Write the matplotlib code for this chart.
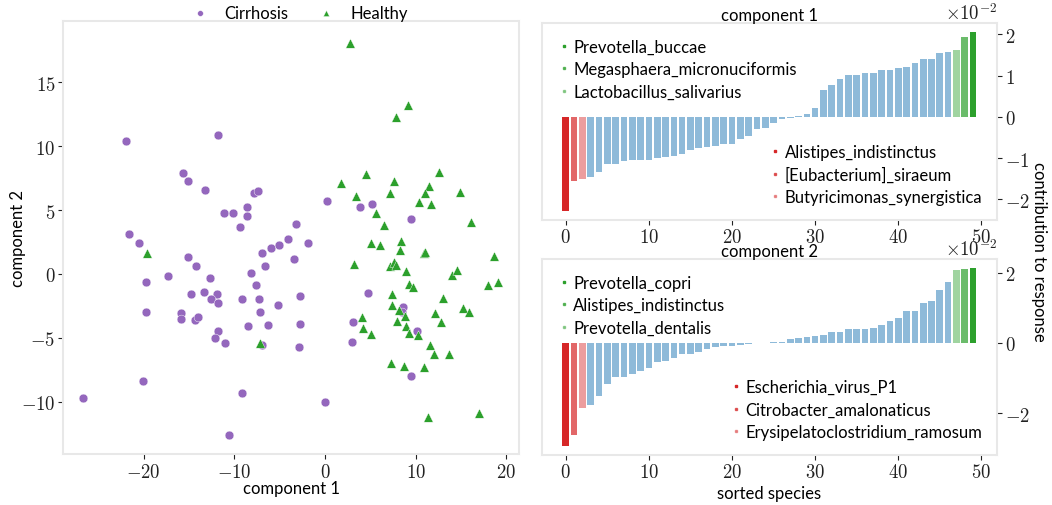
import matplotlib
matplotlib.use("Agg")
import matplotlib.pyplot as plt
from matplotlib.lines import Line2D
from matplotlib.ticker import FuncFormatter
import numpy as np

plt.rcParams['font.family'] = ['Lato', 'DejaVu Sans']
plt.rcParams['mathtext.fontset'] = 'cm'

# ---------------- data ----------------
cirrhosis_x = [-26.7, -21.9, -21.6, -20.5, -19.7, -19.7, -20.1, -17.3, -15.1, -14.2,
               -12.7, -13.3, -14.8, -11.9, -12.6, -11.8, -15.9, -15.9, -14.3, -14.0,
               -11.8, -12.1, -11.0, -9.4, -9.2, -8.2, -7.6, -7.3, -7.2, -8.5,
               -6.3, -7.0, -6.0, -5.1, -4.1, -6.6, -5.2, -3.4, -2.8, -2.8,
               -2.9, -9.2, -10.6, -7.0, -11.8, -15.7, -15.1, -13.2, -7.8, -7.4,
               -8.6, -11.1, -10.1, -8.6, -3.2, 0.2, 3.9, 5.2, 9.5, -1.9,
               0.0, 4.7, 3.1, 3.0, 8.6, 8.5, 10.1, 9.5]
cirrhosis_y = [-9.7, 10.4, 3.1, 2.4, -0.6, -3.0, -8.4, -0.2, 1.3, 0.6,
               -0.3, -1.4, -1.6, -1.6, -2.0, -2.3, -3.1, -3.5, -3.6, -3.4,
               -4.5, -5.0, -5.4, 3.7, -2.0, 0.1, -0.9, -2.0, -3.0, -4.1,
               -4.0, 1.6, 2.0, 2.3, 2.7, 0.6, -2.4, 1.2, -1.7, -3.9,
               -5.7, -9.3, -12.6, -5.6, 10.9, 7.9, 7.3, 6.6, 6.3, 6.5,
               5.2, 4.8, 4.8, 4.5, 3.9, 5.7, 5.2, 5.5, 4.3, 2.4,
               -10.0, -1.5, -3.8, -5.3, -2.6, -3.0, -4.5, -8.0]

healthy_x = [2.8, 9.2, 7.8, 4.5, 1.8, 12.6, 7.6, 3.4, 7.2, 11.5,
             11.0, 10.4, 11.7, 14.9, 5.6, 6.5, 16.1, 5.1, 6.1, 8.4,
             8.3, 3.2, 7.2, 7.6, 7.8, 10.9, 11.0, 8.9, 9.3, 9.7,
             14.0, 14.6, 18.6, 18.0, 19.1, 7.4, 7.4, 8.2, 8.8, 13.0,
             12.1, 12.8, 15.2, 15.9, 7.9, 8.9, 9.3, 10.3, 4.1, 4.2,
             5.1, 11.6, 12.0, 13.7, 7.3, 8.7, 10.9, 11.4, 17.0, -7.2,
             -19.6]
healthy_y = [18.1, 13.2, 12.3, 7.8, 7.1, 8.0, 7.3, 6.1, 6.3, 6.9,
             6.3, 5.6, 5.5, 6.4, 4.8, 3.8, 4.1, 2.4, 2.3, 2.6,
             1.9, 0.8, 0.6, 0.9, 0.7, 1.6, 1.7, 0.2, -0.8, -1.0,
             -0.1, 0.3, 1.4, -0.9, -0.6, -1.6, -2.4, -2.8, -3.3, -1.9,
             -3.1, -3.8, -2.7, -3.0, -3.7, -4.1, -4.6, -4.8, -3.4, -4.2,
             -4.7, -5.6, -6.3, -6.3, -7.0, -7.2, -7.3, -11.2, -10.9, -5.4,
             1.6]

# contributions in units of 1e-2
comp1_contrib = [-2.28, -1.55, -1.50, -1.45, -1.33, -1.15, -1.15, -1.08, -1.06, -1.05,
                 -1.04, -1.00, -0.98, -0.95, -0.91, -0.80, -0.76, -0.73, -0.70, -0.65,
                 -0.65, -0.54, -0.47, -0.30, -0.27, -0.15, -0.06, -0.02, 0.01, 0.08,
                 0.22, 0.65, 0.77, 0.91, 1.01, 1.01, 1.07, 1.07, 1.13, 1.13,
                 1.18, 1.20, 1.31, 1.40, 1.40, 1.55, 1.58, 1.62, 1.93, 2.06]
comp2_contrib = [-2.93, -2.61, -1.84, -1.78, -1.50, -1.16, -0.98, -0.98, -0.88, -0.79,
                 -0.70, -0.55, -0.50, -0.44, -0.30, -0.30, -0.27, -0.18, -0.12, -0.10,
                 -0.08, -0.06, -0.03, -0.01, 0.01, 0.02, 0.04, 0.10, 0.13, 0.18,
                 0.21, 0.24, 0.30, 0.32, 0.39, 0.41, 0.41, 0.44, 0.52, 0.62,
                 0.72, 0.92, 0.92, 1.15, 1.21, 1.50, 1.75, 2.07, 2.10, 2.14]

comp1_top = ['Prevotella_buccae', 'Megasphaera_micronuciformis', 'Lactobacillus_salivarius']
comp1_bottom = ['Alistipes_indistinctus', '[Eubacterium]_siraeum', 'Butyricimonas_synergistica']
comp2_top = ['Prevotella_copri', 'Alistipes_indistinctus', 'Prevotella_dentalis']
comp2_bottom = ['Escherichia_virus_P1', 'Citrobacter_amalonaticus', 'Erysipelatoclostridium_ramosum']

PURPLE = '#9467bd'
GREEN = '#2ca02c'
RED = '#d62728'
BLUE = '#1f77b4'
SPINE = '#e8e8e8'
alphas = [1.0, 0.7, 0.45]

fig = plt.figure(figsize=(10.52, 5.06), dpi=100)

def mfmt(scale=1.0):
    def f(v, pos):
        v = v * scale
        if abs(v - round(v)) < 1e-9:
            v = int(round(v))
        return r'$%g$' % v
    return FuncFormatter(f)

def style(ax):
    for s in ax.spines.values():
        s.set_color(SPINE)
        s.set_linewidth(1.5)
    ax.tick_params(colors='#222222', labelsize=13.5, length=3.5, width=0.8, pad=2)
    ax.xaxis.set_major_formatter(mfmt())
    ax.yaxis.set_major_formatter(mfmt())

# --------------- scatter ---------------
ax = fig.add_axes([0.0599, 0.1008, 0.4335, 0.8557])
ax.scatter(cirrhosis_x, cirrhosis_y, s=40, marker='o', color=PURPLE,
           edgecolors='white', linewidths=0.3, label='Cirrhosis')
ax.scatter(healthy_x, healthy_y, s=46, marker='^', color=GREEN,
           edgecolors='white', linewidths=0.3, label='Healthy')
ax.set_xlim(-28.9, 21.4)
ax.set_ylim(-14.1, 19.8)
ax.set_xticks([-20, -10, 0, 10, 20])
ax.set_yticks([-10, -5, 0, 5, 10, 15])
ax.set_xlabel('component 1', fontsize=12, labelpad=0)
ax.set_ylabel('component 2', fontsize=12)
ax.yaxis.set_label_coords(-0.081, 0.5)
style(ax)
ax.legend(loc='lower center', bbox_to_anchor=(0.51, 0.985), ncol=2, frameon=False,
          fontsize=12, handletextpad=0.45, columnspacing=1.3, borderaxespad=0.0,
          markerscale=0.65)

# --------------- bar panels ---------------
def bar_panel(rect, vals, title, top_labels, bottom_labels, xlabel=None):
    a = fig.add_axes(rect)
    n = len(vals)
    idx = np.arange(n)
    colors = [BLUE] * n
    al = [0.5] * n
    for k in range(3):
        colors[k] = RED
        al[k] = alphas[k]
        colors[n - 1 - k] = GREEN
        al[n - 1 - k] = alphas[k]
    for i in idx:
        a.bar(i, vals[i], width=0.8, color=colors[i], alpha=al[i], linewidth=0)
    a.set_xticks([0, 10, 20, 30, 40, 50])
    a.yaxis.tick_right()
    style(a)
    a.text(1.0, 1.005, r'$\times10^{-2}$', transform=a.transAxes, ha='right',
           va='bottom', fontsize=13.5, color='#222222')
    a.set_title(title, fontsize=12, pad=2)
    if xlabel:
        a.set_xlabel(xlabel, fontsize=12, labelpad=3)
    gh = [Line2D([], [], marker='s', markersize=1.6, linestyle='none',
                 color=GREEN, alpha=alphas[k]) for k in range(3)]
    rh = [Line2D([], [], marker='s', markersize=1.6, linestyle='none',
                 color=RED, alpha=alphas[k]) for k in range(3)]
    l1 = a.legend(gh, top_labels, loc='upper left', frameon=False, fontsize=12,
                  handlelength=0.8, handletextpad=0.15, labelspacing=0.38,
                  borderaxespad=0.5, borderpad=0.45)
    a.add_artist(l1)
    a.legend(rh, bottom_labels, loc='lower right', frameon=False, fontsize=12,
             handlelength=0.8, handletextpad=0.15, labelspacing=0.38,
             borderaxespad=0.5, borderpad=0.4)
    return a

bar_panel([0.515, 0.5638, 0.4328, 0.3888], comp1_contrib, 'component 1',
          comp1_top, comp1_bottom)
bar_panel([0.515, 0.0994, 0.4328, 0.3868], comp2_contrib, 'component 2',
          comp2_top, comp2_bottom, xlabel='sorted species')

fig.text(0.988, 0.503, 'contribution to response', rotation=270, fontsize=12,
         ha='center', va='center')

fig.savefig('out.png', dpi=100)
